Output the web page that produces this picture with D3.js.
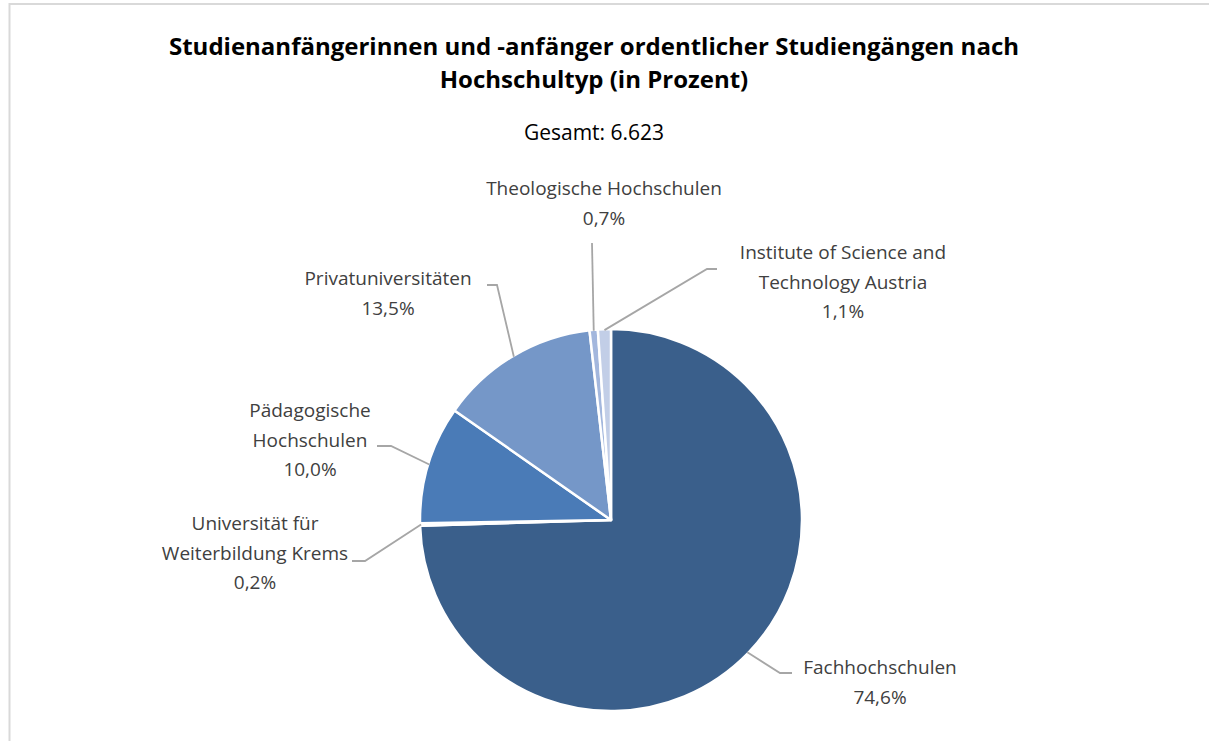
<!DOCTYPE html>
<html>
<head>
<meta charset="utf-8">
<script src="https://cdn.jsdelivr.net/npm/d3@7"></script>
<style>
  body { margin: 0; background: #fff; }
  text { font-family: "Open Sans", "DejaVu Sans", sans-serif; }
  .title { font-weight: bold; font-size: 24px; fill: #000; }
  .sub { font-size: 21px; fill: #000; }
  .lbl { font-size: 19px; fill: #404040; }
</style>
</head>
<body>
<div id="chart"></div>
<script>
// data
let categories = ["Fachhochschulen", "Universität für Weiterbildung Krems", "Pädagogische Hochschulen",
                  "Privatuniversitäten", "Theologische Hochschulen", "Institute of Science and Technology Austria"];
let values = [74.6, 0.2, 10.0, 13.5, 0.7, 1.1];
let value_labels = ["74,6%", "0,2%", "10,0%", "13,5%", "0,7%", "1,1%"];
let label_lines = [
    ["Fachhochschulen"],
    ["Universität für", "Weiterbildung Krems"],
    ["Pädagogische", "Hochschulen"],
    ["Privatuniversitäten"],
    ["Theologische Hochschulen"],
    ["Institute of Science and", "Technology Austria"]
];
let colors = ["#3A5F8B", "#3C67A3", "#4A7BB7", "#7597C8", "#A3B7DD", "#C2CEE7"];

let window_width = 1209;
let window_height = 741;
let cx = 611, cy = 520, radius = 191;
let line_h = 29.5;

// label placement, relative to pie centre (layout only)
// tx/ty: centre of first text line; elbow / end: leader line bends
let label_pos = [
    {tx: 269, ty: 154, elbow: [169, 153], end: [181, 153]},
    {tx: -356, ty: 10, elbow: [-246, 41], end: [-259, 41]},
    {tx: -301, ty: -103, elbow: [-220, -74], end: [-234, -74]},
    {tx: -223, ty: -235, elbow: [-114, -235], end: [-124, -235]},
    {tx: -7, ty: -325, elbow: null, end: [-19, -277]},
    {tx: 232, ty: -261, elbow: [96, -251], end: [106, -251]}
];

let svg = d3.select("#chart").append("svg")
    .attr("width", window_width)
    .attr("height", window_height);

// frame
svg.append("rect")
    .attr("x", 9.5).attr("y", 4)
    .attr("width", 1400).attr("height", 900)
    .attr("fill", "none")
    .attr("stroke", "#d9d9d9")
    .attr("stroke-width", 2);

svg.append("text").classed("title", true)
    .attr("x", 594).attr("y", 55).attr("text-anchor", "middle")
    .text("Studienanfängerinnen und -anfänger ordentlicher Studiengängen nach");
svg.append("text").classed("title", true)
    .attr("x", 594).attr("y", 88).attr("text-anchor", "middle")
    .text("Hochschultyp (in Prozent)");
svg.append("text").classed("sub", true)
    .attr("x", 594).attr("y", 140).attr("text-anchor", "middle")
    .text("Gesamt: 6.623");

let pie = d3.pie().sort(null).value(d => d)(values);
let arc = d3.arc().innerRadius(0).outerRadius(radius);

let g = svg.append("g").attr("transform", "translate(" + cx + "," + cy + ")");

g.selectAll("path.slice")
    .data(pie)
    .enter()
    .append("path")
    .classed("slice", true)
    .attr("d", arc)
    .attr("fill", (d, i) => colors[i])
    .attr("stroke", "#fff")
    .attr("stroke-width", 2.5)
    .attr("stroke-linejoin", "round");

// leader lines
function edge_point(d) {
    let a = (d.startAngle + d.endAngle) / 2;
    return [Math.sin(a) * (radius - 1), -Math.cos(a) * (radius - 1)];
}

g.selectAll("path.leader")
    .data(pie)
    .enter()
    .append("path")
    .classed("leader", true)
    .attr("fill", "none")
    .attr("stroke", "#a6a6a6")
    .attr("stroke-width", 1.8)
    .attr("d", (d, i) => {
        let p = edge_point(d);
        let lp = label_pos[i];
        let pts = [p];
        if (lp.elbow) pts.push(lp.elbow);
        pts.push(lp.end);
        return d3.line()(pts);
    });

// labels
pie.forEach((d, i) => {
    let lp = label_pos[i];
    let lines = label_lines[i].concat([value_labels[i]]);
    let t = g.append("text").classed("lbl", true)
        .attr("text-anchor", "middle");
    lines.forEach((s, k) => {
        t.append("tspan")
            .attr("x", lp.tx)
            .attr("y", lp.ty + k * line_h)
            .text(s);
    });
});
</script>
</body>
</html>
